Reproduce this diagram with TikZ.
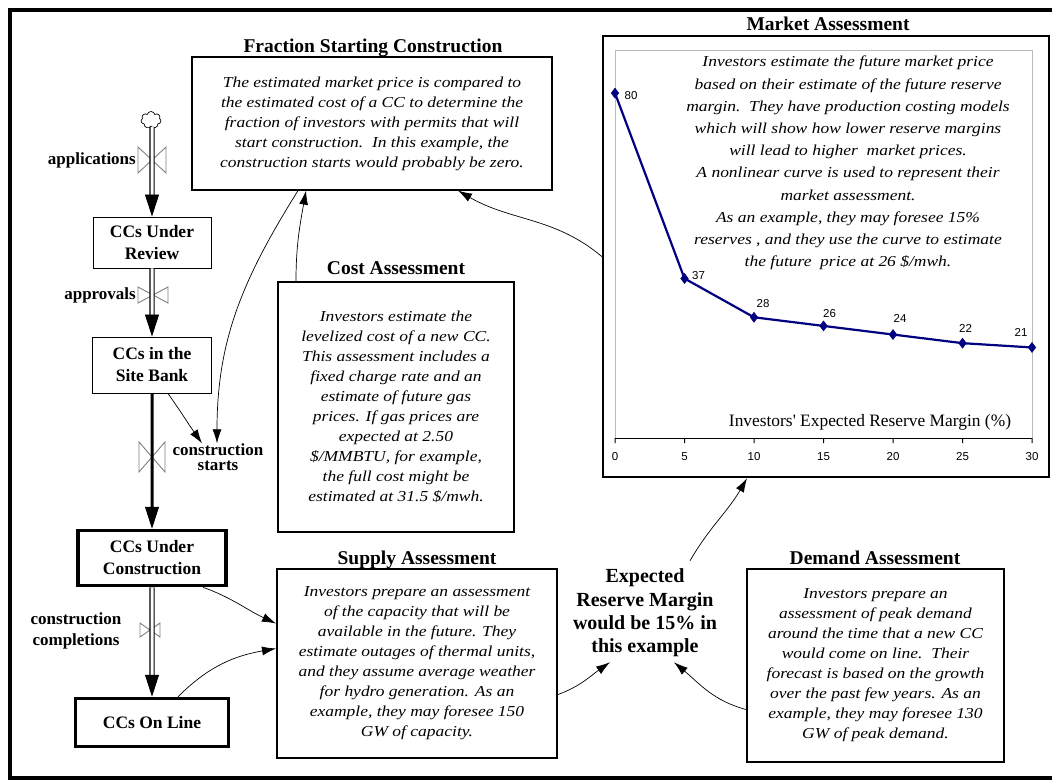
\documentclass[tikz,border=0pt]{standalone}
\usepackage{fontspec}
\setmainfont{Liberation Serif}
\newfontfamily\notefont{Liberation Serif}[FakeStretch=1.15]
\newfontfamily\chartfont{Liberation Sans}
\usetikzlibrary{arrows.meta,shapes.symbols,plotmarks}
\definecolor{navy}{RGB}{0,0,128}
\definecolor{valvegray}{RGB}{128,128,128}
\tikzset{
	stock/.style={draw,line width=0.9pt,align=center,inner sep=0pt,font=\bfseries\fontsize{17.5}{22}\selectfont},
	bigstock/.style={stock,line width=3.5pt},
	note/.style={draw,align=center,inner sep=0pt,font=\notefont\itshape\fontsize{15.2}{20}\selectfont},
	heading/.style={inner sep=0pt,font=\bfseries\fontsize{19.5}{22}\selectfont},
	flowname/.style={inner sep=0pt,align=center,font=\bfseries\fontsize{17}{21}\selectfont},
	pipe/.style={draw=black,double=white,double distance=3pt,line width=1.1pt},
	thickpipe/.style={draw=black,line width=3pt},
	flowhead/.style={-{Triangle[length=22pt,width=14pt]},line width=0.8pt},
	link/.style={-{Latex[length=14pt,width=9pt]},line width=0.7pt},
	ticklabel/.style={inner sep=0pt,font=\chartfont\fontsize{11.5}{12}\selectfont},
	pics/valve/.style 2 args={code={\draw[valvegray,line width=0.9pt] (-#1,-#2) -- (-#1,#2) -- (#1,-#2) -- (#1,#2) -- cycle;}}
}
\begin{document}
\begin{tikzpicture}[x=1pt,y=-1pt]
	\useasboundingbox (0,0) rectangle (1052,780);
	\draw[line width=3.5pt] (1052,10) -- (10,10) -- (10,778) -- (1052,778);

	% stocks and flows
	\node[cloud,draw,cloud puffs=7,aspect=1.1,minimum width=20pt,minimum height=17pt,inner sep=0pt,line width=0.7pt] (src) at (151,120) {};
	\node[stock,minimum width=118pt,minimum height=51pt] (review) at (152,242.5) {CCs Under\\Review};
	\node[stock,minimum width=119pt,minimum height=56pt] (bank) at (152,365) {CCs in the\\Site Bank};
	\node[bigstock,minimum width=148pt,minimum height=55pt] (build) at (152,558) {CCs Under\\Construction};
	\node[bigstock,minimum width=153pt,minimum height=48pt] (online) at (152,722.5) {CCs On Line};

	\pic at (152,160) {valve={14}{13}};
	\pic at (153,295) {valve={15}{8}};
	\pic at (152,457) {valve={13}{15}};
	\pic at (150,630) {valve={10}{7}};

	\draw[pipe] ([xshift=1pt]src.south) -- ([xshift=0.1pt,yshift=20pt]review.north);
	\draw[flowhead] ([yshift=22pt]review.north) -- (review.north);
	\draw[pipe] (review.south) -- ([xshift=0.1pt,yshift=20pt]bank.north);
	\draw[flowhead] ([yshift=22pt]bank.north) -- (bank.north);
	\draw[thickpipe] (bank.south) -- ([xshift=0.1pt,yshift=20pt]build.north);
	\draw[flowhead] ([yshift=22pt]build.north) -- (build.north);
	\draw[pipe] (build.south) -- ([xshift=0.1pt,yshift=20pt]online.north);
	\draw[flowhead] ([yshift=22pt]online.north) -- (online.north);

	\node[flowname,anchor=east] (applname) at (136,160) {applications};
	\node[flowname,anchor=east] (apprname) at (136,295) {approvals};
	\node[flowname,font=\bfseries\fontsize{17}{15}\selectfont] (startname) at (218,457) {construction\\starts};
	\node[flowname] (complname) at (76,631) {construction\\completions};

	% assessments
	\node[heading] (fractitle) at (373,48) {Fraction Starting Construction};
	\node[note,line width=1.2pt,minimum width=360pt,minimum height=133pt] (frac) at (372,123.5) {The estimated market price is compared to\\the estimated cost of a CC to determine the\\fraction of investors with permits that will\\start construction.\ \ In this example, the\\construction starts would probably be zero.};
	\node[heading] (costtitle) at (396,268.5) {Cost Assessment};
	\node[note,line width=2.2pt,minimum width=236pt,minimum height=250pt] (cost) at (396,407) {Investors estimate the\\levelized cost of a new CC.\\This assessment includes a\\fixed charge rate and an\\estimate of future gas\\prices. If gas prices are\\expected at 2.50\\\$/MMBTU, for example,\\the full cost might be\\estimated at 31.5 \$/mwh.};
	\node[heading] (supplytitle) at (417,560) {Supply Assessment};
	\node[note,line width=2pt,minimum width=280pt,minimum height=189pt] (supply) at (417,663.5) {Investors prepare an assessment\\of the capacity that will be\\available in the future. They\\estimate outages of thermal units,\\and they assume average weather\\for hydro generation. As an\\example, they may foresee 150\\GW of capacity.};
	\node[heading] (demandtitle) at (875,557.5) {Demand Assessment};
	\node[note,line width=2pt,minimum width=257pt,minimum height=193pt] (demand) at (875.5,665.5) {Investors prepare an\\assessment of peak demand\\around the time that a new CC\\would come on line.\ \ Their\\forecast is based on the growth\\over the past few years. As an\\example, they may foresee 130\\GW of peak demand.};
	\node[heading,align=center,font=\bfseries\fontsize{20}{23.3}\selectfont] (erm) at (645,613) {Expected\\Reserve Margin\\would be 15\% in\\this example};

	% market chart
	\node[heading] (markettitle) at (828,23.5) {Market Assessment};
	\node[draw,line width=2.5pt,minimum width=446pt,minimum height=441pt,inner sep=0pt] (market) at (826,256.5) {};
	\begin{scope}[shift={(615,438)},x=13.9pt,y=4.311pt]
		\draw[gray!55,line width=1pt] (0,0) -- (0,90) -- (30,90) -- (30,0);
		\draw[line width=1pt] (0,0) -- (30,0);
		\foreach \t in {0,5,...,30} {
			\draw[line width=1pt] (\t,0) -- ([xshift=0.1pt]\t,-1.2);
			\node[ticklabel] (tick\t) at (\t,-4.2) {\t};
		}
		\draw[navy,line width=2.2pt,mark=diamond*,mark size=5pt,mark options={fill=navy,line width=0.5pt}] plot coordinates {(0,80) (5,37) (10,28) (15,26) (20,24) (25,22) (30,21)};
		\foreach \v/\p/\dx/\dy in {0/80/16/-2,5/37/14/3,10/28/9/14,15/26/6/12,20/24/7/16,25/22/3/15,30/21/-11/15}
			\node[ticklabel] (val\v) at ([xshift=\dx pt,yshift=\dy pt]\v,\p) {\p};
	\end{scope}
	\node[inner sep=0pt,font=\fontsize{17.4}{20}\selectfont] (axistitle) at (870,422) {Investors\textquotesingle{} Expected Reserve Margin (\%)};
	\node[note,draw=none,font=\notefont\itshape\fontsize{15.2}{22.2}\selectfont] (markettext) at (848,163) {Investors estimate the future market price\\based on their estimate of the future reserve\\margin.\ \ They have production costing models\\which will show how lower reserve margins\\will lead to higher\ \ market prices.\\A nonlinear curve is used to represent their\\market assessment.\\As an example, they may foresee 15\%\\reserves , and they use the curve to estimate\\the future\ \ price at 26 \$/mwh.};

	% information links
	\draw[link] ([xshift=16pt]bank.south) to[out=-55,in=125] ([xshift=-16pt]startname.north);
	\draw[link] ([xshift=-74pt]frac.south) to[out=-122,in=90] ([xshift=-1pt]startname.north);
	\draw[link] ([xshift=-100pt]cost.north) to[out=90,in=-100] ([xshift=-66pt]frac.south);
	\draw[link] (market.west) to[out=140,in=-30] ([xshift=86pt]frac.south);
	\draw[link] ([xshift=51pt]build.south) to[out=-20,in=155] ([yshift=40pt]supply.west);
	\draw[link] ([xshift=26pt]online.north) to[out=45,in=190] ([yshift=15pt]supply.west);
	\draw[link] ([yshift=-31pt]supply.east) to[out=20,in=-145] ([xshift=-35pt,yshift=-5pt]erm.south);
	\draw[link] ([yshift=-44pt]demand.west) to[out=165,in=-40] ([xshift=29pt,yshift=-5pt]erm.south);
	\draw[link] ([xshift=45pt,yshift=8pt]erm.north) to[out=60,in=-120] ([xshift=-79pt]market.south);
\end{tikzpicture}
\end{document}
